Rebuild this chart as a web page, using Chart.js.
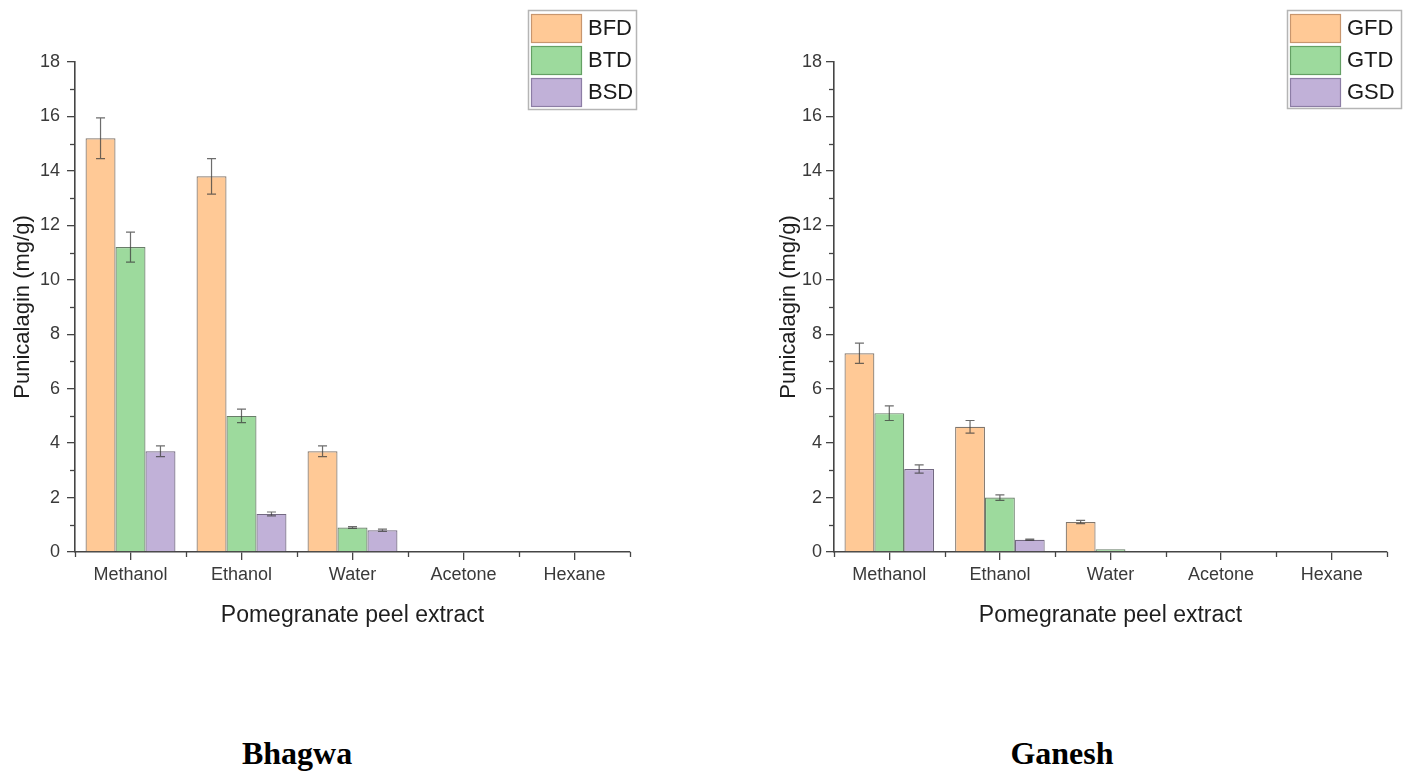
<!DOCTYPE html>
<html>
<head>
<meta charset="utf-8">
<script src="https://cdn.jsdelivr.net/npm/chart.js@4.4.0/dist/chart.umd.min.js"></script>
<style>
  html, body { margin: 0; padding: 0; background: #fff; width: 1405px; height: 775px; overflow: hidden; }
  .wrap { position: absolute; top: 0; }
  .cap { position: absolute; font-family: "Liberation Serif", "Times New Roman", serif; font-weight: bold; font-size: 32px; color: #000; top: 735px; transform: translateX(-50%); white-space: nowrap; }
</style>
</head>
<body>
<div class="wrap" style="left:0px"><canvas id="c1" width="700" height="650"></canvas></div>
<div class="wrap" style="left:760px"><canvas id="c2" width="645" height="650"></canvas></div>
<div class="cap" style="left:297px">Bhagwa</div>
<div class="cap" style="left:1062px">Ganesh</div>
<script>
// ---- data ----
const categories = ["Methanol", "Ethanol", "Water", "Acetone", "Hexane"];
const yTicks = [0, 2, 4, 6, 8, 10, 12, 14, 16, 18];

const bhagwaLabels = ["BFD", "BTD", "BSD"];
const BFD = [15.2, 13.8, 3.7, 0, 0];
const BTD = [11.2, 5.0, 0.9, 0, 0];
const BSD = [3.7, 1.4, 0.8, 0, 0];
const BFD_err = [0.75, 0.65, 0.2, 0, 0];
const BTD_err = [0.55, 0.25, 0.03, 0, 0];
const BSD_err = [0.2, 0.07, 0.04, 0, 0];

const ganeshLabels = ["GFD", "GTD", "GSD"];
const GFD = [7.3, 4.6, 1.1, 0, 0];
const GTD = [5.1, 2.0, 0.1, 0, 0];
const GSD = [3.05, 0.45, 0, 0, 0];
const GFD_err = [0.37, 0.23, 0.06, 0, 0];
const GTD_err = [0.27, 0.1, 0, 0, 0];
const GSD_err = [0.15, 0.02, 0, 0, 0];

const yTitle = "Punicalagin (mg/g)";
const xTitle = "Pomegranate peel extract";

// ---- styles ----
const fills = ["rgb(255,201,150)", "rgb(157,218,157)", "rgb(193,177,216)"];
const borders = ["rgb(128,118,108)", "rgb(105,125,105)", "rgb(115,105,130)"];
const legendBorders = ["rgb(200,150,110)", "rgb(100,160,100)", "rgb(140,125,165)"];
const FONT = "'Liberation Sans', Arial, sans-serif";
const axisColor = "#454545";

const extrasPlugin = {
  id: 'extras',
  afterDatasetsDraw(chart, args, opts) {
    const ctx = chart.ctx;
    const ys = chart.scales.y;
    ctx.save();
    ctx.strokeStyle = "rgba(60,60,60,0.75)";
    ctx.lineWidth = 1.2;
    chart.data.datasets.forEach((ds, i) => {
      const meta = chart.getDatasetMeta(i);
      meta.data.forEach((el, j) => {
        const e = ds.err[j];
        if (!e) return;
        const v = ds.data[j];
        const yt = ys.getPixelForValue(v + e), yb = ys.getPixelForValue(v - e);
        const x = el.x, hw = 4.5;
        ctx.beginPath();
        ctx.moveTo(x, yt); ctx.lineTo(x, yb);
        ctx.moveTo(x - hw, yt); ctx.lineTo(x + hw, yt);
        ctx.moveTo(x - hw, yb); ctx.lineTo(x + hw, yb);
        ctx.stroke();
      });
    });
    ctx.restore();
  },
  afterDraw(chart, args, opts) {
    const ctx = chart.ctx;
    const ys = chart.scales.y, xs = chart.scales.x;
    const ca = chart.chartArea;
    ctx.save();
    ctx.strokeStyle = axisColor;
    ctx.lineWidth = 1.3;
    for (let v = 1; v < 18; v += 2) {
      const y = Math.round(ys.getPixelForValue(v)) + 0.5;
      ctx.beginPath(); ctx.moveTo(ca.left - 5, y); ctx.lineTo(ca.left, y); ctx.stroke();
    }
    for (let k = 0; k <= categories.length; k++) {
      const x = Math.round(xs.getPixelForValue(k - 0.5)) + 0.5;
      ctx.beginPath(); ctx.moveTo(x, ca.bottom); ctx.lineTo(x, ca.bottom + 5); ctx.stroke();
    }
    ctx.restore();
    const L = opts.legend;
    ctx.save();
    ctx.strokeStyle = "#b5b5b5";
    ctx.lineWidth = 1.5;
    ctx.strokeRect(L.x + 0.5, L.y + 0.5, L.w, L.h);
    chart.data.datasets.forEach((ds, i) => {
      const ry = L.y + 4 + i * 32;
      ctx.fillStyle = fills[i];
      ctx.fillRect(L.x + 3, ry, 50, 28);
      ctx.strokeStyle = legendBorders[i];
      ctx.lineWidth = 1.2;
      ctx.strokeRect(L.x + 3.5, ry + 0.5, 50, 28);
      ctx.fillStyle = "#1a1a1a";
      ctx.font = "22px " + FONT;
      ctx.textBaseline = "middle";
      ctx.textAlign = "left";
      ctx.fillText(ds.label, L.x + 60, ry + 15);
    });
    ctx.restore();
  }
};

function makeChart(id, labels, series, errs, cfg) {
  const datasets = series.map((d, i) => ({
    label: labels[i],
    data: d,
    err: errs[i],
    backgroundColor: fills[i],
    borderColor: borders[i],
    borderWidth: 1.2,
    borderSkipped: 'start',
    categoryPercentage: 0.81,
    barPercentage: 1.0
  }));
  return new Chart(document.getElementById(id), {
    type: 'bar',
    data: { labels: categories, datasets },
    options: {
      responsive: false,
      animation: false,
      devicePixelRatio: 1,
      layout: { padding: { top: 62, right: cfg.padRight, left: 0, bottom: 0 } },
      plugins: {
        legend: { display: false },
        tooltip: { enabled: false },
        extras: { legend: cfg.legend }
      },
      scales: {
        x: {
          offset: true,
          grid: { display: true, drawOnChartArea: false, offset: false, tickLength: 8, color: axisColor, lineWidth: 1.3 },
          border: { display: true, color: axisColor, width: 1.6 },
          ticks: { color: "#3a3a3a", font: { size: 18, family: FONT }, padding: 4, maxRotation: 0 },
          title: { display: true, text: xTitle, color: "#1e1e1e", font: { size: 23, family: FONT }, padding: { top: 0, bottom: 21 } },
          afterFit(s) { s.height = 98; }
        },
        y: {
          min: 0, max: 18,
          afterBuildTicks(s) { s.ticks = yTicks.map(v => ({ value: v })); },
          grid: { display: true, drawOnChartArea: false, tickLength: 8, color: axisColor, lineWidth: 1.3 },
          border: { display: true, color: axisColor, width: 1.6 },
          ticks: { color: "#3a3a3a", font: { size: 18, family: FONT }, padding: cfg.yPad },
          title: { display: true, text: yTitle, color: "#1e1e1e", font: { size: 22, family: FONT }, padding: { top: cfg.yTitlePad, bottom: 0 } },
          afterFit(s) { s.width = cfg.yWidth; }
        }
      }
    },
    plugins: [extrasPlugin]
  });
}

makeChart('c1', bhagwaLabels, [BFD, BTD, BSD], [BFD_err, BTD_err, BSD_err],
  { padRight: 70, yWidth: 75, yPad: 7, yTitlePad: 10, legend: { x: 528, y: 10, w: 108, h: 99 } });
makeChart('c2', ganeshLabels, [GFD, GTD, GSD], [GFD_err, GTD_err, GSD_err],
  { padRight: 18, yWidth: 74, yPad: 4, yTitlePad: 16, legend: { x: 527, y: 10, w: 114, h: 98 } });
</script>
</body>
</html>
